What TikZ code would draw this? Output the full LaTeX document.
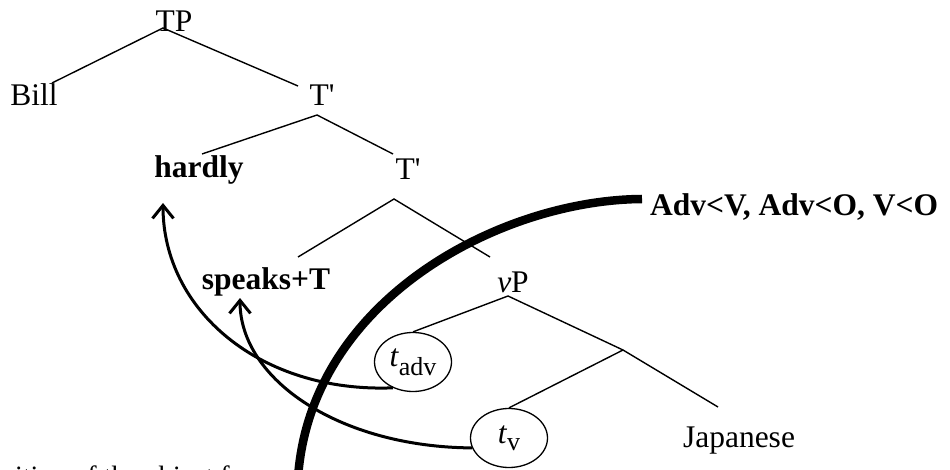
\documentclass[tikz,border=0pt]{standalone}
\usepackage{fontspec}
\setmainfont{Liberation Serif}
\usetikzlibrary{arrows.meta,shapes.geometric}
\newcommand\diagfont{\fontsize{31.5}{36}\selectfont}
\begin{document}
\begin{tikzpicture}[x=1pt,y=-1pt,
  lbl/.style={inner sep=0pt,anchor=base,font=\diagfont},
  boldlbl/.style={lbl,font=\diagfont\bfseries},
  branch/.style={line width=1.4pt},
  trace/.style={draw,ellipse,line width=1.3pt,minimum width=77pt,minimum height=59pt,inner sep=0pt,font=\diagfont},
  move/.style={line width=3pt,-{Straight Barb[length=13pt,width=21pt,line width=3pt]}},
  boundary/.style={line width=8.5pt}]
\useasboundingbox (0,0) rectangle (950,470);
\clip (0,0) rectangle (950,470);

% labels
\node[lbl] (TP) at (174,32) {TP};
\node[lbl] (Bill) at (34,106) {Bill};
\node[lbl] (T1) at (322,106) {T\textquotesingle};
\node[boldlbl] (hardly) at (199,178) {hardly};
\node[lbl] (T2) at (408,180) {T\textquotesingle};
\node[boldlbl] (speaks) at (266,290) {speaks+T};
\node[lbl] (vP) at (513,292) {\textit{v}P};
\node[lbl] (Jap) at (739,447) {Japanese};
\node[boldlbl,anchor=base west] (order) at (650,216) {Adv<V, Adv<O, V<O};
\node[lbl,anchor=base west,font=\fontsize{28}{32}\selectfont] (caption) at (-24,485) {position of the object formed};

% traces
\node[trace] (tadv) at (413,362) {\textit{t}\raisebox{-9pt}{\fontsize{26}{26}\selectfont adv}};
\node[trace] (tv) at (509,438) {\textit{t}\raisebox{-7pt}{\fontsize{26}{26}\selectfont v}};

% branch points
\coordinate (TPb) at (163,28);
\coordinate (Billt) at (52,83);
\coordinate (T1t) at (298,86);
\coordinate (T1b) at (317,115);
\coordinate (hardlyt) at (202,154);
\coordinate (T2t) at (393,154);
\coordinate (T2b) at (394,199);
\coordinate (speakst) at (298,257);
\coordinate (vPt) at (490,257);
\coordinate (vPb) at (508,296);
\coordinate (Vbar) at (623,350);
\coordinate (Japt) at (718,407);

\draw[branch] (Billt) -- (TPb) -- (T1t);
\draw[branch] (hardlyt) -- (T1b) -- (T2t);
\draw[branch] (speakst) -- (T2b) -- (vPt);
\draw[branch] (tadv.north) -- (vPb) -- (Vbar) -- (Japt);
\draw[branch] (tv.north) -- (Vbar);

% movement arrows
\coordinate (hardlyArr) at (163,203);
\coordinate (speaksArr) at (240,298);
\draw[move] (tadv.-128) .. controls (260,393) and (163,310) .. (hardlyArr);
\draw[move] (tv.195) .. controls (340,447) and (240,380) .. (speaksArr);

% boundary
\coordinate (bTop) at (642,199);
\coordinate (bBot) at (298,478);
\draw[boundary] (bTop) .. controls (500,200) and (310,300) .. (bBot);
\end{tikzpicture}
\end{document}
